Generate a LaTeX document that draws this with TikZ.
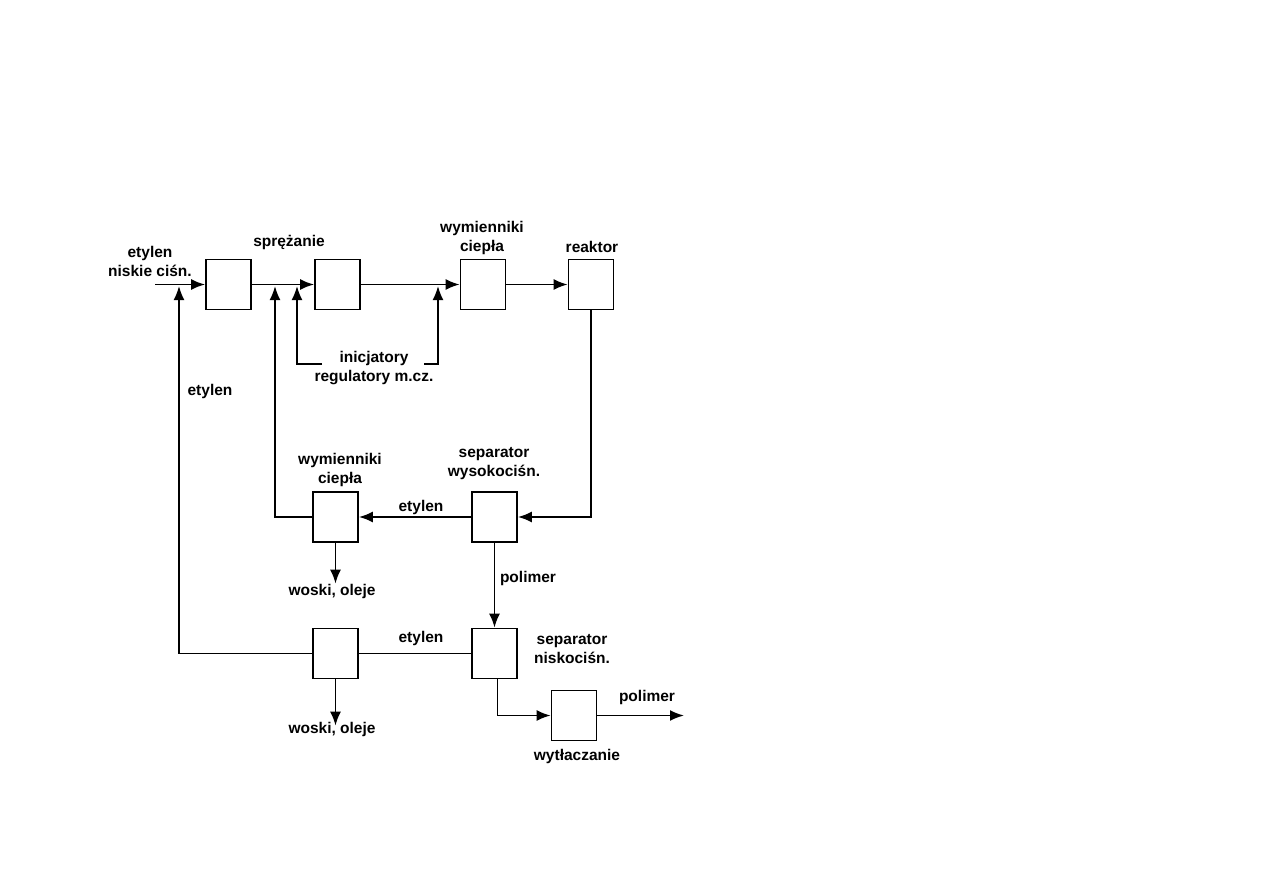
\documentclass[tikz,border=0pt]{standalone}
\usepackage{fontspec}
\setmainfont{Liberation Sans}
\usetikzlibrary{arrows.meta}
\begin{document}
\begin{tikzpicture}[x=1pt,y=-1pt,
  box/.style={draw,line width=1.8pt,minimum width=45pt,minimum height=50pt,inner sep=0pt},
  lbl/.style={font=\fontsize{15.5}{19}\selectfont\bfseries,align=center,inner sep=0pt},
  flow/.style={line width=1.8pt},
  arr/.style={flow,-{Latex[length=14pt,width=11pt]}}]
\useasboundingbox (0,0) rectangle (1263,893);
% boxes
\node[box] (B1) at (228.5,284.5) {};
\node[box] (B2) at (337.5,284.5) {};
\node[box] (B3) at (483,284.5) {};
\node[box] (B4) at (591,284.5) {};
\node[box] (SH) at (494.5,517) {};
\node[box] (WC) at (335.5,517) {};
\node[box] (SL) at (494.5,653.5) {};
\node[box] (WX) at (335.5,653.5) {};
\node[box] (EX) at (574,715.5) {};
% labels
\node[lbl] (Lin) at (150,261) {etylen\\niskie ciśn.};
\node[lbl] (Lspr) at (289,242) {sprężanie};
\node[lbl] (Lwc1) at (482,238) {wymienniki\\ciepła};
\node[lbl] (Lre) at (592,247) {reaktor};
\node[lbl] (Lini) at (374,368) {inicjatory\\regulatory m.cz.};
\node[lbl] (Let1) at (210,391) {etylen};
\node[lbl] (Lwc2) at (340,470) {wymienniki\\ciepła};
\node[lbl] (Lsh) at (494,464) {separator\\wysokociśn.};
\node[lbl] (Let2) at (421,507) {etylen};
\node[lbl] (Lwo1) at (332,591) {woski, oleje};
\node[lbl] (Lpo1) at (528,578) {polimer};
\node[lbl] (Let3) at (421,638) {etylen};
\node[lbl] (Lsl) at (572,649) {separator\\niskociśn.};
\node[lbl] (Lwo2) at (332,729) {woski, oleje};
\node[lbl] (Lpo2) at (647,697) {polimer};
\node[lbl] (Lwy) at (577,756) {wytłaczanie};
% coordinates
\coordinate (in) at (155,284.5);
\coordinate (out) at (684,715.5);
\coordinate (j1) at (179,286);
\coordinate (j2) at (275,286);
\coordinate (j3) at (297,286);
\coordinate (j4) at (438,286);
\coordinate (i1) at (322,364);
\coordinate (i2) at (424,364);
% connectors
\draw[arr] (in) -- (B1.west);
\draw[arr] (B1.east) -- (B2.west);
\draw[arr] (B2.east) -- (B3.west);
\draw[arr] (B3.east) -- (B4.west);
\draw[arr] (i1) -| (j3);
\draw[arr] (i2) -| (j4);
\draw[arr] (B4.south) |- (SH.east);
\draw[arr] (SH.west) -- (WC.east);
\draw[arr] (WC.west) -| (j2);
\draw[arr] (WC.south) -- (WC.south |- Lwo1.north);
\draw[arr] (SH.south) -- (SL.north);
\draw[flow] (SL.west) -- (WX.east);
\draw[arr] (WX.west) -| (j1);
\draw[arr] (WX.south) -- ([yshift=-4pt]WX.south |- Lwo2.north);
\draw[arr] ([xshift=3pt]SL.south) |- (EX.west);
\draw[arr] (EX.east) -- (out);
\end{tikzpicture}
\end{document}
